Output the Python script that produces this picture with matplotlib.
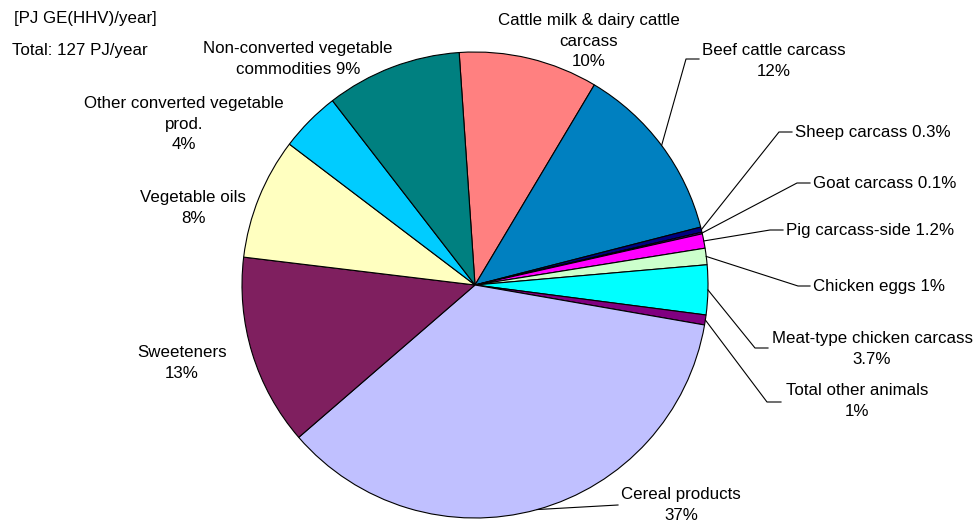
import numpy as np
import matplotlib
matplotlib.use("Agg")
import matplotlib.pyplot as plt

plt.rcParams['font.family'] = ['Liberation Sans', 'DejaVu Sans']

# data, clockwise from the top
labels = ["Cattle milk & dairy cattle\ncarcass\n10%", "Beef cattle carcass\n12%",
          "Sheep carcass 0.3%", "Goat carcass 0.1%", "Pig carcass-side 1.2%",
          "Chicken eggs 1%", "Meat-type chicken carcass\n3.7%", "Total other animals\n1%",
          "Cereal products\n37%", "Sweeteners\n13%", "Vegetable oils\n8%",
          "Other converted vegetable\nprod.\n4%", "Non-converted vegetable\ncommodities 9%"]
# slice sizes as drawn (percent)
shares = [9.64, 12.44, 0.36, 0.11, 1.0, 1.14, 3.44, 0.69, 35.9, 13.25, 8.42, 4.19, 9.39]
colors = ["#FF8080", "#0080C0", "#000080", "#6600CC", "#FF00FF", "#CCFFCC", "#00FFFF",
          "#800080", "#C0C0FF", "#7F1F5F", "#FFFFC0", "#00CCFF", "#008080"]

W, H = 974, 525
fig = plt.figure(figsize=(W / 100, H / 100), dpi=100)
ax = fig.add_axes([0, 0, 1, 1])

cx, cy, r = 475, 285, 233
wedges, _ = ax.pie(shares, colors=colors, startangle=93.9, counterclock=False,
                   center=(cx, H - cy), radius=r,
                   wedgeprops=dict(edgecolor="black", linewidth=0.8))
ax.set_xlim(0, W)
ax.set_ylim(0, H)
ax.set_aspect("equal")
ax.axis("off")

fs = 12.2

def txt(x, y, s, ha="center"):
    ax.text(x, H - y, s, ha=ha, va="center", fontsize=fs, color="black",
            multialignment="center", linespacing=1.45)

# label positions (pixels) and leader elbows
txt(589, 41, labels[0])
txt(774, 61, labels[1])
txt(795, 133, labels[2], ha="left")
txt(813, 183, labels[3], ha="left")
txt(786, 230, labels[4], ha="left")
txt(813, 286, labels[5], ha="left")
txt(872, 349, labels[6])
txt(857, 401, labels[7])
txt(681, 505, labels[8])
txt(182, 363, labels[9])
txt(193, 208, labels[10])
txt(184, 124, labels[11])
txt(298, 59, labels[12])

leaders = {1: [(686, 59), (699, 59)], 2: [(779, 132), (792, 132)],
           3: [(797, 183), (810, 183)], 4: [(770, 230), (783, 230)],
           5: [(798, 286), (810, 286)], 6: [(755, 348), (768, 348)],
           7: [(767, 402), (781, 402)], 8: [(618, 505)]}
for i, pts in leaders.items():
    w = wedges[i]
    a = np.deg2rad((w.theta1 + w.theta2) / 2)
    xs = [cx + r * np.cos(a)] + [p[0] for p in pts]
    ys = [H - cy + r * np.sin(a)] + [H - p[1] for p in pts]
    ax.plot(xs, ys, color="black", linewidth=0.8)

ax.text(14, H - 18, "[PJ GE(HHV)/year]", ha="left", va="center", fontsize=fs)
ax.text(12, H - 50, "Total: 127 PJ/year", ha="left", va="center", fontsize=fs)

fig.savefig("out.png", dpi=100)
